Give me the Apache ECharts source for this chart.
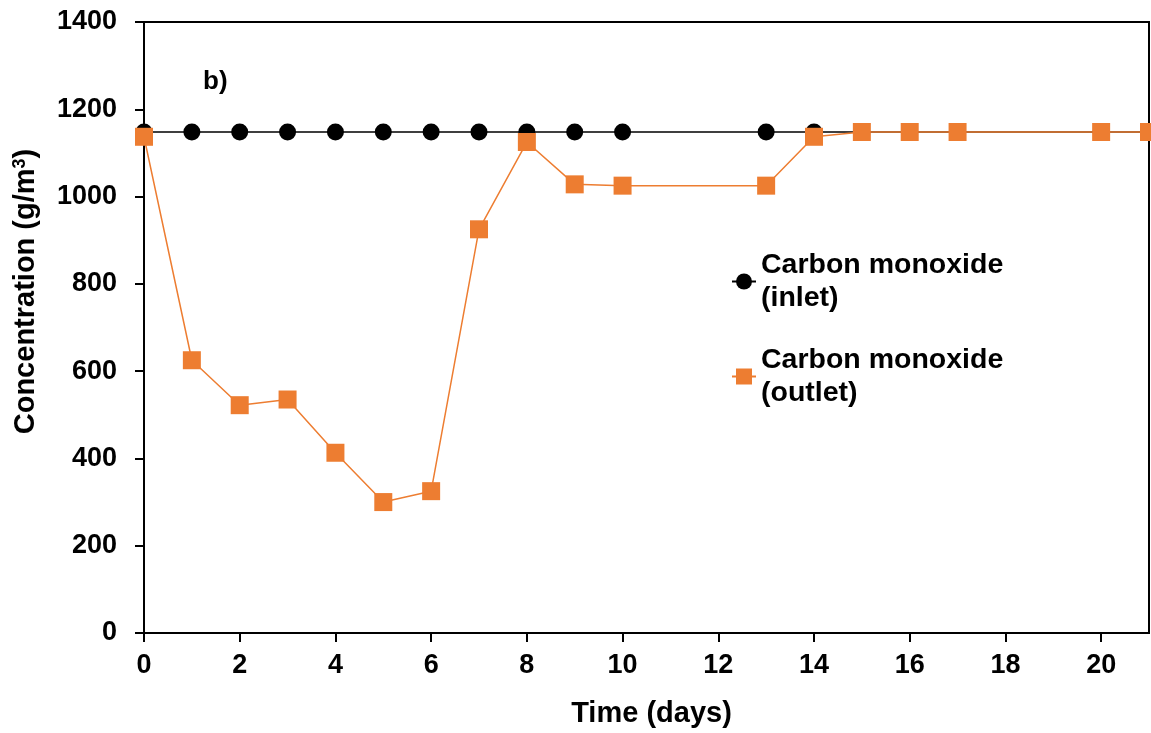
<!DOCTYPE html>
<html><head><meta charset="utf-8">
<script src="https://cdn.jsdelivr.net/npm/echarts@6/dist/echarts.min.js"></script>
<style>html,body{margin:0;padding:0;background:#fff}#c{width:1151px;height:733px}</style>
</head><body><div id="c"></div>
<script>
const inletDays = [0,1,2,3,4,5,6,7,8,9,10,13,14,15,16,17,20,21];
const inletValues = [1148,1148,1148,1148,1148,1148,1148,1148,1148,1148,1148,1148,1148,1148,1148,1148,1148,1148];
const outletDays = [0,1,2,3,4,5,6,7,8,9,10,13,14,15,16,17,20,21];
const outletValues = [1137,625,522,535,413,300,325,925,1125,1028,1025,1025,1137,1148,1148,1148,1148,1148];
const xTicks = [0,2,4,6,8,10,12,14,16,18,20];
const yTicks = [0,200,400,600,800,1000,1200,1400];

const font = 'Liberation Sans, Arial, sans-serif';
const chart = echarts.init(document.getElementById('c'));
const pair = (xs, ys) => xs.map((x, i) => [x, ys[i]]);
const lg = {fontFamily: font, fontWeight: 'bold', fontSize: 28.5, color: '#000', lineHeight: 33, padding: [33, 0, 0, 0]};
chart.setOption({
  animation: false,
  grid: {left: 144, right: 2, top: 22, bottom: 98, show: true, borderColor: '#000', borderWidth: 2},
  xAxis: {
    type: 'value', min: 0, max: 21, interval: 2,
    name: 'Time (days)', nameLocation: 'middle', nameGap: 66,
    nameTextStyle: {fontFamily: font, fontWeight: 'bold', fontSize: 29, color: '#000', padding: [0, 0, 0, 10]},
    axisLine: {lineStyle: {color: '#000', width: 2}},
    axisTick: {show: true, length: 9, lineStyle: {color: '#000', width: 2}},
    splitLine: {show: false},
    axisLabel: {fontFamily: font, fontWeight: 'bold', fontSize: 27, color: '#000', margin: 19,
      showMaxLabel: false, formatter: v => xTicks.includes(v) ? String(v) : ''}
  },
  yAxis: {
    type: 'value', min: 0, max: 1400, interval: 200,
    name: '{a|Concentration (g/m}{s|3}{a|)}', nameLocation: 'middle', nameGap: 104,
    nameTextStyle: {fontFamily: font, fontWeight: 'bold', fontSize: 29, color: '#000', padding: [0, 0, 0, 72],
      rich: {
        a: {fontFamily: font, fontWeight: 'bold', fontSize: 29, color: '#000'},
        s: {fontFamily: font, fontWeight: 'bold', fontSize: 18, color: '#000', verticalAlign: 'top', padding: [0, 0, 10, 0]}
      }},
    axisLine: {show: true, lineStyle: {color: '#000', width: 2}},
    axisTick: {show: true, length: 9, lineStyle: {color: '#000', width: 2}},
    splitLine: {show: false},
    axisLabel: {fontFamily: font, fontWeight: 'bold', fontSize: 27, color: '#000', margin: 27,
      formatter: v => yTicks.includes(v) ? String(v) : ''}
  },
  legend: [
    {data: ['inlet'], left: 726, top: 227, itemWidth: 24, itemHeight: 20, itemGap: 4,
     formatter: () => 'Carbon monoxide\n(inlet)', textStyle: lg},
    {data: ['outlet'], left: 726, top: 322, itemWidth: 24, itemHeight: 20, itemGap: 4,
     formatter: () => 'Carbon monoxide\n(outlet)', textStyle: lg}
  ],
  graphic: [{type: 'text', left: 203, top: 69, style: {text: 'b)', font: 'bold 26px ' + font, fill: '#000'}}],
  series: [
    {name: 'inlet', type: 'line', data: pair(inletDays, inletValues), symbol: 'circle', symbolSize: 17,
     lineStyle: {color: '#000', width: 1.5}, itemStyle: {color: '#000'}},
    {name: 'outlet', type: 'line', data: pair(outletDays, outletValues), symbol: 'rect', symbolSize: 18,
     lineStyle: {color: '#ED7D31', width: 1.5}, itemStyle: {color: '#ED7D31'}}
  ]
});
</script></body></html>
